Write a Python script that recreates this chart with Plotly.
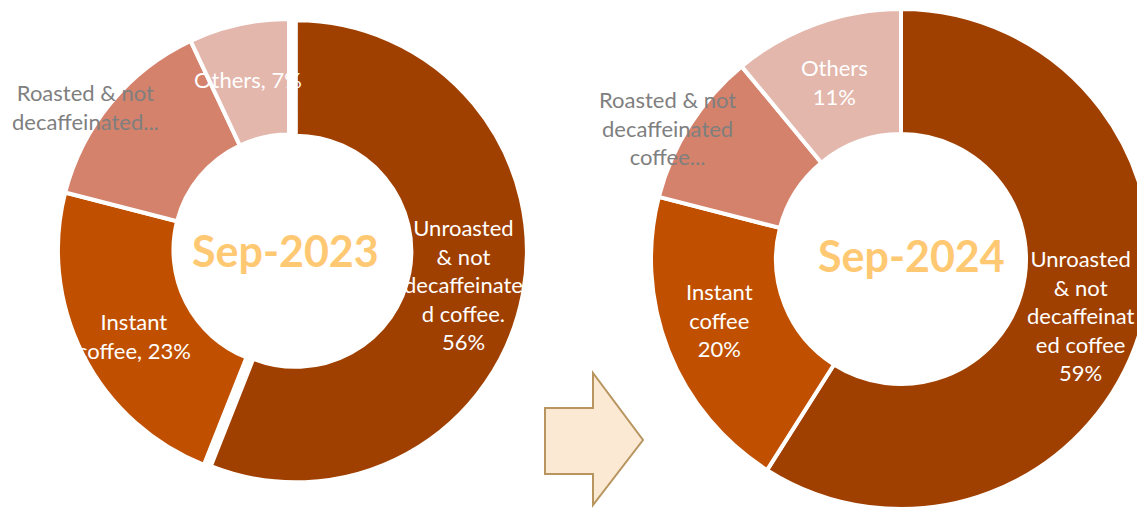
import plotly.graph_objects as go

categories = ["Unroasted & not decaffeinated coffee", "Instant coffee",
              "Roasted & not decaffeinated coffee", "Others"]
values_2023 = [56, 23, 14, 7]
values_2024 = [59, 20, 10, 11]
period_labels = ["Sep-2023", "Sep-2024"]
colors = ["#A04000", "#C05000", "#D4826B", "#E3B7AC"]

# figure size; the page body adds an 8px margin, so screen = figure + 8
FW, FH = 1160, 510
OFF = 8


def px(X):
    return (X - OFF) / FW


def py(Y):
    return 1 - (Y - OFF) / FH


fig = go.Figure()

# left donut (Unroasted slice slightly exploded)
fig.add_trace(go.Pie(
    labels=categories, values=values_2023, sort=False, direction="clockwise",
    rotation=0, hole=0.5, pull=[0.03, 0, 0, 0],
    marker=dict(colors=colors, line=dict(color="white", width=4)),
    textinfo="none", hoverinfo="label+percent", showlegend=False,
    domain=dict(x=[px(289 - 238), px(289 + 238)], y=[py(250 + 238), py(250 - 238)]),
))

# right donut
fig.add_trace(go.Pie(
    labels=categories, values=values_2024, sort=False, direction="clockwise",
    rotation=0, hole=0.5,
    marker=dict(colors=colors, line=dict(color="white", width=4)),
    textinfo="none", hoverinfo="label+percent", showlegend=False,
    domain=dict(x=[px(651), px(1151)], y=[py(509), py(9)]),
))

white = "white"
gray = "#7F7F7F"
font_family = "Lato, 'Open Sans', sans-serif"


def lbl(x, y, text, color, size=22):
    fig.add_annotation(x=px(x), y=py(y), xref="paper", yref="paper",
                       text=text, showarrow=False,
                       font=dict(family=font_family, size=size, color=color),
                       xanchor="center", yanchor="middle", align="center")


v1, v2 = values_2023, values_2024
# left labels
lbl(463, 284, f"Unroasted<br>&amp; not<br>decaffeinate<br>d coffee.<br>{v1[0]}%", white)
lbl(134, 336, f"Instant<br>coffee, {v1[1]}%", white)
lbl(85, 107, "Roasted &amp; not<br>decaffeinated...", gray)
lbl(248, 80, f"Others, {v1[3]}%", white)
# right labels
lbl(1080, 315, f"Unroasted<br>&amp; not<br>decaffeinat<br>ed coffee<br>{v2[0]}%", white)
lbl(719, 320, f"Instant<br>coffee<br>{v2[1]}%", white)
lbl(667, 128, "Roasted &amp; not<br>decaffeinated<br>coffee...", gray)
lbl(834, 82, f"Others<br>{v2[3]}%", white)

# center titles
for (cx, cy), t in zip([(285, 250), (911, 255)], period_labels):
    fig.add_annotation(x=px(cx), y=py(cy), xref="paper", yref="paper",
                       text=f"<b>{t}</b>", showarrow=False,
                       font=dict(family=font_family, size=43, color="#FFC872"),
                       xanchor="center", yanchor="middle")

# block arrow
pts = [(545, 408), (593, 408), (593, 373), (643, 440), (593, 505), (593, 474), (545, 474)]
path = "M " + " L ".join(f"{px(x)},{py(y)}" for x, y in pts) + " Z"
fig.add_shape(type="path", path=path, xref="paper", yref="paper",
              fillcolor="#FBE9D3", line=dict(color="#B8955F", width=2))

fig.update_layout(width=FW, height=FH, margin=dict(l=0, r=0, t=0, b=0),
                  paper_bgcolor="white", plot_bgcolor="white")

fig.write_html("out.html")
